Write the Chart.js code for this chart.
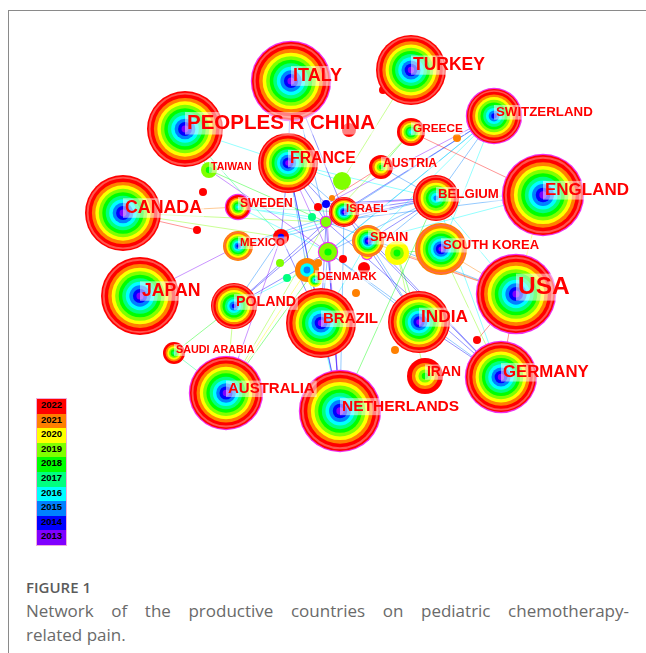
<!DOCTYPE html>
<html>
<head>
<meta charset="utf-8">
<script src="https://cdn.jsdelivr.net/npm/chart.js@4/dist/chart.umd.min.js"></script>
<style>
html,body{margin:0;padding:0;background:#fff;}
body{width:646px;height:653px;position:relative;overflow:hidden;font-family:"Open Sans",sans-serif;}
#frame{position:absolute;left:8px;top:10px;width:650px;height:660px;border-top:1px solid #8a8a8a;border-left:1px solid #8a8a8a;}
#wrap{position:absolute;left:0;top:0;width:646px;height:560px;}
#legend{position:absolute;left:36px;top:398px;width:29px;border:1px solid rgba(235,150,210,0.8);}
.lg{height:14.6px;line-height:14.6px;font:bold 9.5px "Liberation Sans",Arial,sans-serif;text-align:center;color:#000;}
#fig{position:absolute;left:26px;top:577px;font:600 15px "Open Sans",sans-serif;color:#5b5b5b;line-height:20px;}
#cap{position:absolute;left:26px;top:599px;width:603px;font:17px "Open Sans",sans-serif;color:#6a6a6a;line-height:24px;}
#cap .l1{text-align:justify;text-align-last:justify;}
</style>
</head>
<body>
<div id="frame"></div>
<div id="wrap"><canvas id="c" width="646" height="560"></canvas></div>
<div id="legend"></div>
<div id="fig">FIGURE 1</div>
<div id="cap"><div class="l1">Network of the productive countries on pediatric chemotherapy-</div><div>related pain.</div></div>
<script>
// ---- data ----
const years = [2013,2014,2015,2016,2017,2018,2019,2020,2021,2022];
const yearColors = ['#8000ff','#0000ff','#0080ff','#00ffff','#00ff80','#00ff00','#80ff00','#ffff00','#ff8000','#ff0000'];

const countries = ['ITALY','TURKEY','PEOPLES R CHINA','SWITZERLAND','GREECE','FRANCE','AUSTRIA','TAIWAN','ENGLAND','BELGIUM','CANADA','SWEDEN','ISRAEL','SPAIN','SOUTH KOREA','MEXICO','USA','JAPAN','POLAND','BRAZIL','INDIA','DENMARK','SAUDI ARABIA','IRAN','GERMANY','AUSTRALIA','NETHERLANDS'];
const countryX = [291,411,185,494,411,288,381,209,543,436,123,238,344,368,441,238,516,140,234,321,419,315,174,425,501,226,340];
const countryY = [81,70,129,116,132,163,167,170,195,198,213,207,212,241,249,246,294,296,306,323,322,280,353,376,377,393,411];
const countrySize = [39,35,38,27,14,30,12,8,40,23,38,12,15,16,26,15,39,39,23,35,31,7,11,18,35,36,40];
const countryFirst = [2013,2013,2013,2014,2016,2013,2018,2018,2013,2015,2013,2016,2013,2013,2013,2014,2013,2013,2014,2013,2013,2015,2017,2018,2013,2013,2013];
const countryLast = [2022,2022,2022,2022,2022,2022,2022,2019,2022,2022,2022,2022,2022,2021,2021,2021,2022,2022,2022,2022,2022,2020,2022,2022,2022,2022,2022];
const countryCentral = [1,0,0,1,0,0,0,0,1,0,0,1,0,0,0,0,1,0,0,0,0,0,0,0,1,1,1];

const minorIds = ['m1','m2','m3','m4','m5','m6','m7','m8','m9','m10','m11','m12','m13','m14','m15','m16','m17','m18','m19','m20','m21','m22','m23','m24','m25'];
const minorX = [383,349,457,342,203,197,326,318,312,326,281,328,367,397,343,364,307,280,287,318,356,297,395,477,332];
const minorY = [90,130,138,181,192,230,204,207,217,222,237,252,254,253,259,268,270,263,278,263,293,311,350,340,198];
const minorSize = [4,7,4,9,4,4,4,4,4,5,8,9,5,12,4,6,12,4,4,4,4,7,4,4,3];
const minorYears = [[2022],[2022],[2021],[2019],[2022],[2022],[2014],[2022],[2017],[2019],[2014,2022],[2018,2019],[2020],[2018,2019,2020],[2022],[2022],[2015,2016,2021],[2019],[2017],[2021],[2021],[2022],[2021],[2022],[2021]];
const minorCentral = [0,0,0,0,0,0,0,0,0,1,0,1,1,0,0,0,0,0,0,0,0,0,0,0,0];

const linkFrom = ['ISRAEL','m10','m7','m12','SPAIN','m13','m11','m8',
 'SWITZERLAND','SWITZERLAND','SWITZERLAND','SWITZERLAND','SWITZERLAND','SWITZERLAND','SWITZERLAND','SWITZERLAND',
 'FRANCE','FRANCE','FRANCE','FRANCE','FRANCE','FRANCE','FRANCE','FRANCE','FRANCE',
 'ITALY','ITALY','ITALY','PEOPLES R CHINA','PEOPLES R CHINA','PEOPLES R CHINA',
 'NETHERLANDS','NETHERLANDS','NETHERLANDS','NETHERLANDS','NETHERLANDS','NETHERLANDS','NETHERLANDS','NETHERLANDS',
 'BRAZIL','BRAZIL','BRAZIL','BRAZIL',
 'INDIA','INDIA','INDIA','INDIA','INDIA','GERMANY','GERMANY','GERMANY','GERMANY','GERMANY',
 'USA','USA','USA','USA','USA','USA','USA',
 'ENGLAND','ENGLAND','ENGLAND','ENGLAND',
 'POLAND','POLAND','POLAND','POLAND','POLAND',
 'JAPAN','CANADA','CANADA','CANADA','CANADA',
 'SWEDEN','SWEDEN','SWEDEN','SWEDEN','MEXICO','MEXICO','TAIWAN','TAIWAN',
 'AUSTRALIA','AUSTRALIA','AUSTRALIA','AUSTRALIA','AUSTRALIA','AUSTRALIA','SAUDI ARABIA',
 'AUSTRIA','AUSTRIA','AUSTRIA','TURKEY','TURKEY','GREECE','IRAN',
 'SOUTH KOREA','SOUTH KOREA','SOUTH KOREA'];
const linkTo = ['BELGIUM','BELGIUM','BELGIUM','BELGIUM','BELGIUM','BELGIUM','BELGIUM','BELGIUM',
 'ISRAEL','m10','m12','SPAIN','BELGIUM','m7','m17','SOUTH KOREA',
 'm10','m12','m11','m7','ISRAEL','BRAZIL','m17','BELGIUM','m4',
 'FRANCE','m10','ISRAEL','TAIWAN','m11','FRANCE',
 'm10','m12','m7','ISRAEL','BRAZIL','BELGIUM','m17','FRANCE',
 'm10','m12','m11','SPAIN',
 'ISRAEL','SPAIN','m12','m14','GERMANY','ISRAEL','SPAIN','m12','m10','BELGIUM',
 'm14','SPAIN','ENGLAND','BELGIUM','m10','GERMANY','m24',
 'BELGIUM','GREECE','SPAIN','m10',
 'm10','m12','m11','ISRAEL','m17',
 'MEXICO','SWEDEN','m11','m6','m10',
 'm10','m9','ISRAEL','m12','m10','ISRAEL','m12','m10',
 'm10','m12','m11','m17','SAUDI ARABIA','POLAND','POLAND',
 'm8','GREECE','BELGIUM','m1','m4','m10','m14',
 'm14','USA','GERMANY'];
const linkYear = [2014,2014,2014,2015,2014,2015,2015,2013,
 2015,2014,2015,2016,2015,2013,2016,2016,
 2014,2013,2014,2014,2015,2014,2015,2016,2016,
 2014,2015,2014,2018,2017,2016,
 2014,2014,2013,2015,2014,2018,2016,2014,
 2014,2015,2014,2016,
 2014,2015,2015,2018,2014,2014,2014,2015,2014,2016,
 2022,2021,2020,2016,2015,2022,2022,
 2016,2022,2016,2015,
 2014,2014,2015,2014,2016,
 2013,2021,2019,2022,2019,
 2016,2016,2017,2016,2016,2015,2013,2018,
 2019,2018,2013,2020,2017,2019,2018,
 2022,2018,2015,2022,2019,2019,2019,
 2018,2021,2019];

// ---- styles ----
const labelFont = {'ITALY':18,'TURKEY':17.5,'PEOPLES R CHINA':20.5,'SWITZERLAND':13.3,'GREECE':11.8,'FRANCE':15.8,'AUSTRIA':12.2,'TAIWAN':10.5,'ENGLAND':17,'BELGIUM':13.2,'CANADA':17.8,'SWEDEN':12,'ISRAEL':11.3,'SPAIN':12.8,'SOUTH KOREA':13,'MEXICO':11.4,'USA':24.5,'JAPAN':17.7,'POLAND':14.2,'BRAZIL':15,'INDIA':17.3,'DENMARK':11.7,'SAUDI ARABIA':10.8,'IRAN':13.9,'GERMANY':16.8,'AUSTRALIA':15,'NETHERLANDS':15.5};

function rgba(hex,a){const n=parseInt(hex.slice(1),16);return `rgba(${n>>16&255},${n>>8&255},${n&255},${a})`;}
function range(a,b){const r=[];for(let y=a;y<=b;y++)r.push(y);return r;}

// legend (HTML)
const lg=document.getElementById('legend');
for(let i=years.length-1;i>=0;i--){const d=document.createElement('div');d.className='lg';d.style.background=yearColors[i];d.textContent=years[i];lg.appendChild(d);}

function positions(chart){
  const p={};
  chart.getDatasetMeta(0).data.forEach((el,i)=>{p[countries[i]]={x:el.x,y:el.y,r:el.options.radius};});
  chart.getDatasetMeta(1).data.forEach((el,i)=>{p[minorIds[i]]={x:el.x,y:el.y,r:el.options.radius};});
  return p;
}
function drawNode(ctx,x,y,R,ys,central){
  const n=ys.length;
  const w=ys.map(()=>1); if(n>1) w[n-1]=(n>=8?2:1.5);
  const tot=w.reduce((a,b)=>a+b,0);
  if(central){ctx.beginPath();ctx.arc(x,y,R+1.2,0,Math.PI*2);ctx.fillStyle='#ee30ee';ctx.fill();}
  let rr=R;
  for(let k=n-1;k>=0;k--){
    ctx.beginPath();ctx.arc(x,y,Math.max(rr,0.5),0,Math.PI*2);
    ctx.fillStyle=yearColors[years.indexOf(ys[k])];ctx.fill();
    if(k===n-1 && n>=8){
      const wo=R*w[k]/tot;
      ctx.beginPath();ctx.arc(x,y,rr-wo*0.38,0,Math.PI*2);
      ctx.strokeStyle='rgba(255,100,90,0.85)';ctx.lineWidth=wo*0.28;ctx.stroke();
    }
    rr-=R*w[k]/tot;
  }
}
const network={
  id:'network',
  beforeDatasetsDraw(chart){
    const ctx=chart.ctx,p=positions(chart);
    ctx.save();ctx.lineWidth=1;
    linkFrom.forEach((f,i)=>{
      const a=p[f],b=p[linkTo[i]];if(!a||!b)return;
      ctx.strokeStyle=rgba(yearColors[years.indexOf(linkYear[i])],0.42);
      ctx.beginPath();ctx.moveTo(a.x,a.y);ctx.lineTo(b.x,b.y);ctx.stroke();
    });
    ctx.restore();
  },
  afterDatasetsDraw(chart){
    const ctx=chart.ctx;
    ctx.save();
    chart.getDatasetMeta(1).data.forEach((el,i)=>drawNode(ctx,el.x,el.y,el.options.radius,minorYears[i],minorCentral[i]));
    chart.getDatasetMeta(0).data.forEach((el,i)=>drawNode(ctx,el.x,el.y,el.options.radius,range(countryFirst[i],countryLast[i]),countryCentral[i]));
    chart.getDatasetMeta(0).data.forEach((el,i)=>{
      const name=countries[i],fs=labelFont[name];
      ctx.font=`bold ${fs}px "Liberation Sans", Arial, sans-serif`;
      const tw=ctx.measureText(name).width;
      const lx=el.x+2,ly=el.y-fs*0.28;
      ctx.fillStyle='rgba(255,255,255,0.5)';
      ctx.fillRect(lx-2,ly-fs*0.55,tw+4,fs*1.1);
      ctx.fillStyle='#ff0000';ctx.textBaseline='middle';ctx.textAlign='left';
      ctx.fillText(name,lx,ly);
    });
    ctx.restore();
  }
};

new Chart(document.getElementById('c'),{
  type:'bubble',
  data:{datasets:[
    {data:countries.map((c,i)=>({x:countryX[i],y:countryY[i],r:countrySize[i]})),backgroundColor:'rgba(0,0,0,0)',borderWidth:0,clip:false},
    {data:minorIds.map((c,i)=>({x:minorX[i],y:minorY[i],r:minorSize[i]})),backgroundColor:'rgba(0,0,0,0)',borderWidth:0,clip:false}
  ]},
  options:{responsive:false,animation:false,devicePixelRatio:1,events:[],
    layout:{padding:0,autoPadding:false},
    plugins:{legend:{display:false},tooltip:{enabled:false}},
    scales:{x:{type:'linear',min:0,max:646,display:false},y:{type:'linear',min:0,max:560,reverse:true,display:false}}
  },
  plugins:[network]
});
</script>
</body>
</html>
